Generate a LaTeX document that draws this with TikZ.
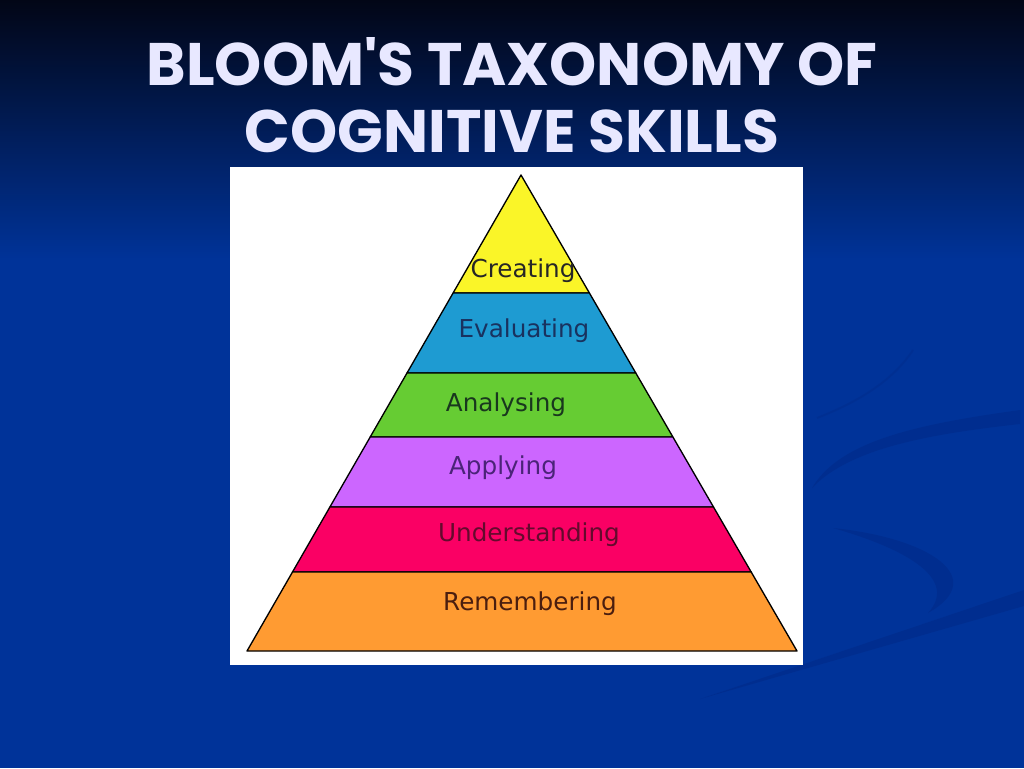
\documentclass[tikz,border=0pt]{standalone}
\usepackage{fontspec}
\setmainfont{DejaVu Sans}
\newfontfamily\titlefont{Poppins}
\definecolor{slidebg}{RGB}{0,51,153}
\definecolor{slidetop}{RGB}{2,6,22}
\definecolor{swoosh}{RGB}{0,38,128}
\definecolor{titlewhite}{RGB}{232,232,255}
\definecolor{creatingyellow}{RGB}{250,245,40}
\definecolor{evaluatingblue}{RGB}{30,155,210}
\definecolor{analysinggreen}{RGB}{102,204,51}
\definecolor{applyingviolet}{RGB}{204,102,255}
\definecolor{understandingpink}{RGB}{250,0,100}
\definecolor{rememberingorange}{RGB}{255,155,50}
\tikzset{
  band/.style={draw=black,line width=1pt,line join=round},
  levellabel/.style={font=\fontsize{18.5}{20}\selectfont,inner sep=0pt},
  titletext/.style={font=\titlefont\bfseries\fontsize{45}{48}\selectfont,inner sep=0pt,text=titlewhite}
}
\begin{document}
\begin{tikzpicture}[x=0.75pt,y=-0.75pt]
  \useasboundingbox (0,0) rectangle (1024,768);

  % slide background
  \fill[slidebg] (0,0) rectangle (1024,768);
  \shade[top color=slidetop,bottom color=slidebg] (0,0) rectangle (1024,260);
  \fill[swoosh,opacity=.4] (812,488) .. controls (840,440) and (920,424) .. (1020,410) -- (1020,424) .. controls (930,434) and (850,448) .. (812,488) -- cycle;
  \draw[swoosh,opacity=.25,line width=1.5pt] (913,350) .. controls (890,385) and (850,405) .. (817,418);
  \fill[swoosh,opacity=.4] (833,528) .. controls (930,538) and (990,578) .. (928,613) .. controls (958,580) and (910,550) .. (833,528) -- cycle;
  \fill[swoosh,opacity=.4] (700,699) -- (1024,590) -- (1024,606) -- cycle;

  % title
  \node[titletext] (title1) at (512,62) {BLOOM'S TAXONOMY OF};
  \node[titletext] (title2) at (512,131) {COGNITIVE SKILLS};

  % picture frame
  \fill[white] (230,167) rectangle (803,665);

  % pyramid bands
  \filldraw[band,fill=creatingyellow] (521,175) -- (589.4,293) -- (453.1,293) -- cycle;
  \filldraw[band,fill=evaluatingblue] (453.1,293) -- (589.4,293) -- (635.8,373) -- (407.0,373) -- cycle;
  \filldraw[band,fill=analysinggreen] (407.0,373) -- (635.8,373) -- (672.9,437) -- (370.2,437) -- cycle;
  \filldraw[band,fill=applyingviolet] (370.2,437) -- (672.9,437) -- (713.5,507) -- (329.9,507) -- cycle;
  \filldraw[band,fill=understandingpink] (329.9,507) -- (713.5,507) -- (751.2,572) -- (292.5,572) -- cycle;
  \filldraw[band,fill=rememberingorange] (292.5,572) -- (751.2,572) -- (797,651) -- (247,651) -- cycle;

  % level names
  \node[levellabel,text=black!85] (creating) at (523,271) {Creating};
  \node[levellabel,text={rgb,255:red,25;green,50;blue,95}] (evaluating) at (524,331) {Evaluating};
  \node[levellabel,text={rgb,255:red,25;green,55;blue,30}] (analysing) at (506,405) {Analysing};
  \node[levellabel,text={rgb,255:red,75;green,35;blue,120}] (applying) at (503,468) {Applying};
  \node[levellabel,text={rgb,255:red,100;green,10;blue,45}] (understanding) at (529,535) {Understanding};
  \node[levellabel,text={rgb,255:red,75;green,30;blue,15}] (remembering) at (530,604) {Remembering};

\end{tikzpicture}
\end{document}
